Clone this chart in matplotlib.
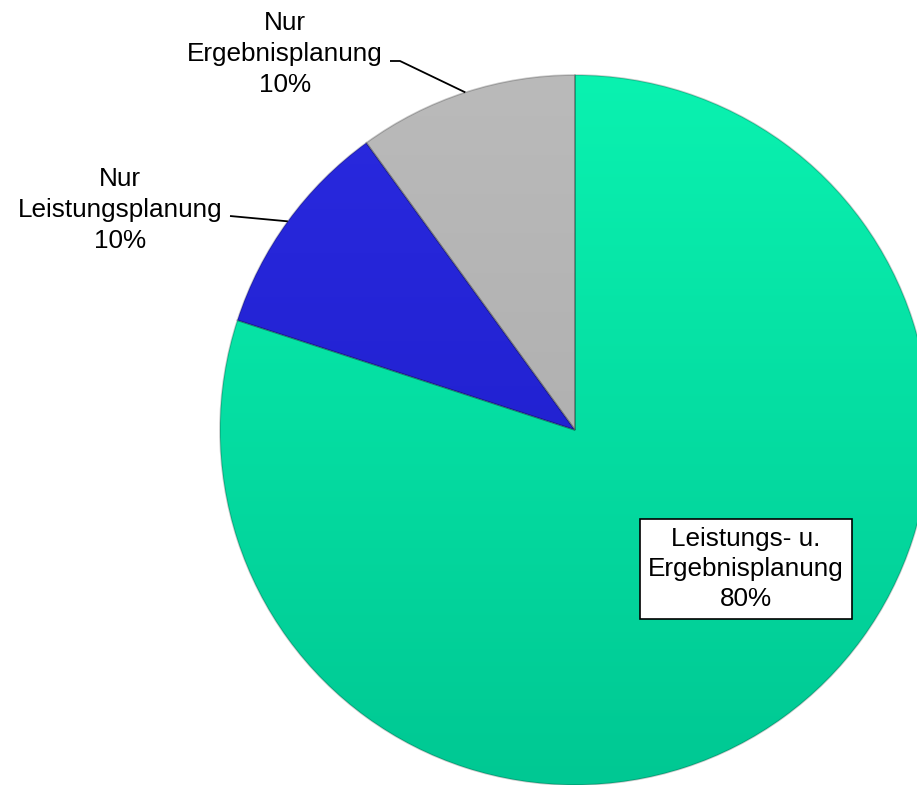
import numpy as np
import matplotlib
matplotlib.use("Agg")
import matplotlib.pyplot as plt

plt.rcParams['font.family'] = ['Liberation Sans', 'DejaVu Sans']

labels = ['Leistungs- u.\nErgebnisplanung', 'Nur\nLeistungsplanung', 'Nur\nErgebnisplanung']
shares = [80, 10, 10]
top_colors = ['#0af2b0', '#2a2ae0', '#bababa']
bottom_colors = ['#00c893', '#1a1ac4', '#a8a8a8']

W, H = 917, 785
cx, cy, r = 575, H - 430, 355

fig = plt.figure(figsize=(W / 100, H / 100), dpi=100)
ax = fig.add_axes([0, 0, 1, 1])

wedges, _ = ax.pie(shares, center=(cx, cy), radius=r, startangle=90,
                   counterclock=False, colors=top_colors,
                   wedgeprops=dict(edgecolor='none'))

# vertical gradient inside each slice
t = np.linspace(0, 1, 256)[:, None]
for w, c0, c1 in zip(wedges, top_colors, bottom_colors):
    a = np.array(matplotlib.colors.to_rgb(c0))
    b = np.array(matplotlib.colors.to_rgb(c1))
    img = (a * (1 - t) + b * t)[:, None, :].repeat(2, axis=1)
    im = ax.imshow(img, extent=(cx - r, cx + r, cy - r, cy + r),
                   origin='upper', aspect='auto', zorder=2)
    im.set_clip_path(w)
    # soft rim
    w.set_edgecolor((0, 0, 0, 0.2))
    w.set_linewidth(1.2)
    w.set_zorder(3)
    w.set_facecolor('none')

fs = 18.8
ls = 1.38

def rim(w):
    ang = np.deg2rad((w.theta1 + w.theta2) / 2)
    return cx + r * np.cos(ang), cy + r * np.sin(ang)

# big slice: boxed label
ax.text(746, H - 569, labels[0] + '\n%d%%' % shares[0], ha='center', va='center',
        fontsize=fs, linespacing=1.3, zorder=5,
        bbox=dict(boxstyle='square,pad=0.3', fc='white', ec='black', lw=1.2))

# small slices with leader lines
text_pos = [None, (120, H - 210), (285, H - 54)]
elbow = [None, (230, H - 216), (390, H - 61)]
knee = [None, (230, H - 216), (400, H - 61)]
for i in (1, 2):
    ax.text(*text_pos[i], labels[i] + '\n%d%%' % shares[i], ha='center', va='center',
            fontsize=fs, linespacing=ls, zorder=5)
    x1, y1 = rim(wedges[i])
    ax.plot([elbow[i][0], knee[i][0], x1], [elbow[i][1], knee[i][1], y1],
            color='black', lw=1.3, zorder=5, solid_capstyle='butt')

ax.set_xlim(0, W)
ax.set_ylim(0, H)
ax.set_aspect('equal')
ax.axis('off')
fig.savefig('out.png', dpi=100)
